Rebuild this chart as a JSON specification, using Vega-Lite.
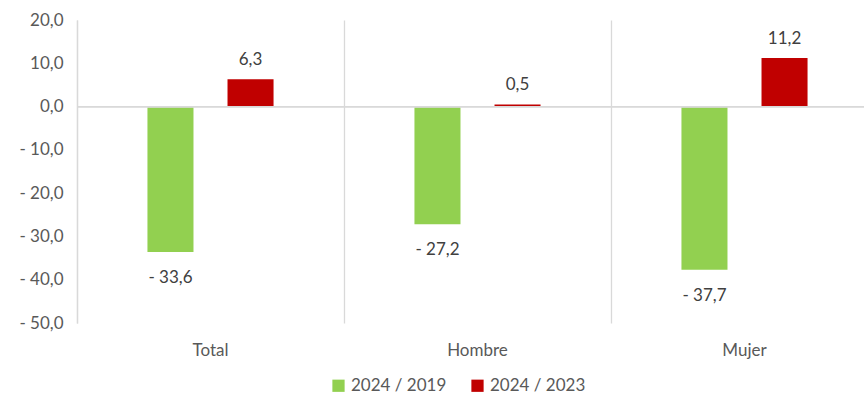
{
  "$schema": "https://vega.github.io/schema/vega-lite/v6.json",
  "autosize": {"type": "none"},
  "padding": {"left": 77, "top": 20, "right": 0, "bottom": 77},
  "width": 801,
  "height": 303,
  "background": "white",
  "config": {
    "view": {"stroke": null},
    "font": "Lato",
    "locale": {"number": {"decimal": ",", "thousands": ".", "grouping": [3], "currency": ["", ""], "minus": "- "}}
  },
  "data": {
    "values": [
      {"grupo": "Total", "serie": "2024 / 2019", "valor": -33.6},
      {"grupo": "Total", "serie": "2024 / 2023", "valor": 6.3},
      {"grupo": "Hombre", "serie": "2024 / 2019", "valor": -27.2},
      {"grupo": "Hombre", "serie": "2024 / 2023", "valor": 0.5},
      {"grupo": "Mujer", "serie": "2024 / 2019", "valor": -37.7},
      {"grupo": "Mujer", "serie": "2024 / 2023", "valor": 11.2}
    ]
  },
  "encoding": {
    "x": {
      "field": "grupo", "type": "nominal", "sort": ["Total", "Hombre", "Mujer"],
      "scale": {"paddingInner": 0, "paddingOuter": 0},
      "axis": {"title": null, "labelAngle": 0, "grid": true, "bandPosition": 0, "gridColor": "#d9d9d9", "gridWidth": 1.3, "domain": false, "ticks": false, "labelFontSize": 17, "labelColor": "#595959", "labelPadding": 19, "labelFont": "Lato"}
    },
    "xOffset": {"field": "serie", "type": "nominal", "scale": {"paddingInner": 0.425, "paddingOuter": 0.88}},
    "y": {
      "field": "valor", "type": "quantitative",
      "scale": {"domain": [-50, 20], "nice": false, "zero": false},
      "axis": {"title": null, "values": [-50, -40, -30, -20, -10, 0, 10, 20], "format": ".1f", "grid": false, "ticks": false, "domainColor": "#d9d9d9", "domainWidth": 1.3, "labelFontSize": 17, "labelColor": "#595959", "labelPadding": 14, "labelFont": "Lato"}
    }
  },
  "layer": [
    {
      "mark": {"type": "bar"},
      "encoding": {
        "color": {
          "field": "serie", "type": "nominal",
          "scale": {"domain": ["2024 / 2019", "2024 / 2023"], "range": ["#92d050", "#c00000"]},
          "legend": {"title": null, "orient": "none", "direction": "horizontal", "legendX": 253, "legendY": 357, "symbolType": "square", "symbolSize": 150, "symbolStrokeWidth": 0, "labelFontSize": 17, "labelColor": "#595959", "labelFont": "Lato", "columnPadding": 22, "symbolOffset": 0}
        }
      }
    },
    {
      "mark": {"type": "rule", "color": "#d9d9d9", "strokeWidth": 1.3},
      "encoding": {"y": {"datum": 0}, "x": null, "xOffset": null}
    },
    {
      "transform": [{"filter": "datum.valor >= 0"}],
      "mark": {"type": "text", "dy": -19, "fontSize": 17, "color": "#404040", "baseline": "middle"},
      "encoding": {"text": {"field": "valor", "type": "quantitative", "format": ".1f"}}
    },
    {
      "transform": [{"filter": "datum.valor < 0"}],
      "mark": {"type": "text", "dy": 26, "fontSize": 17, "color": "#404040", "baseline": "middle"},
      "encoding": {"text": {"field": "valor", "type": "quantitative", "format": ".1f"}}
    }
  ]
}
